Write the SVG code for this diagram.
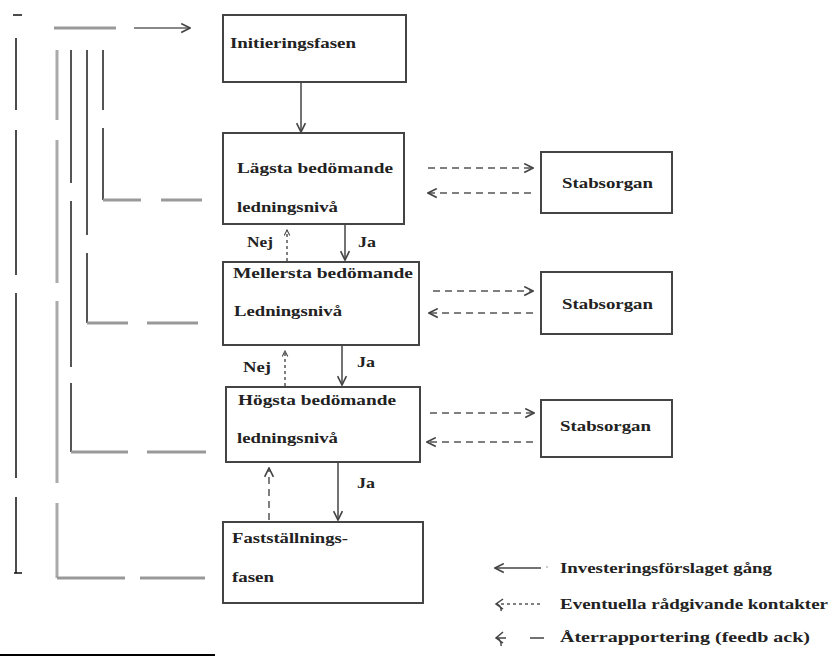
<svg xmlns="http://www.w3.org/2000/svg" width="834" height="657" viewBox="0 0 834 657">
<defs>
<marker id="ah" viewBox="0 0 10 10" refX="9" refY="5" markerWidth="11" markerHeight="11" markerUnits="userSpaceOnUse" orient="auto">
<path d="M1,1 L9,5 L1,9" fill="none" stroke="#444" stroke-width="1.5"/>
</marker>
<marker id="ahs" viewBox="0 0 10 10" refX="9" refY="5" markerWidth="7" markerHeight="7" markerUnits="userSpaceOnUse" orient="auto">
<path d="M1,1 L9,5 L1,9" fill="none" stroke="#444" stroke-width="1.5"/>
</marker>
</defs>
<style>
.box{fill:#fff;stroke:#444;stroke-width:2}
.t{font-family:"Liberation Serif","Times New Roman",serif;font-weight:bold;font-size:15px;fill:#222}
.solid{stroke:#444;stroke-width:1.5;fill:none}
.dash{stroke:#555;stroke-width:1.5;fill:none;stroke-dasharray:7,5}
.dot{stroke:#555;stroke-width:1.5;fill:none;stroke-dasharray:3,3}
.blk{stroke:#111;stroke-width:1.5;fill:none}
.g1{stroke:#aaa;stroke-width:3;fill:none}
.g2{stroke:#555;stroke-width:2;fill:none}
.gh{stroke:#999;stroke-width:3;fill:none}
</style>
<rect width="834" height="657" fill="#fff"/>

<g id="feedback-lines">
<path class="blk" d="M13,15 H22 M16,38 V110 M16,130 V275 M16,293 V478 M16,497 V573 M14,573 H22"/>
<path class="g1" d="M57,50 V120 M57,140 V283 M57,301 V483 M57,503 V578"/>
<path class="gh" d="M57,578 H125 M140,578 H205"/>
<path class="gh" d="M54,28 H116"/>
<path d="M134,28 H190" stroke="#888" stroke-width="2" fill="none" marker-end="url(#ah)"/>
<path class="g2" d="M71,50 V183 M71,201 V367 M71,383 V452"/>
<path class="gh" d="M71,452 H128 M147,452 H206"/>
<path class="g2" d="M87,50 V235 M87,253 V323"/>
<path class="gh" d="M87,323 H128 M147,323 H198"/>
<path class="g2" d="M103,50 V110 M103,128 V200"/>
<path class="gh" d="M103,200 H141 M161,200 H202"/>
</g>

<g id="connectors">
<path class="solid" d="M301,82 V132" marker-end="url(#ah)"/>
<path class="solid" d="M345,224 V260" marker-end="url(#ah)"/>
<path class="dot" d="M287,261 V230" marker-end="url(#ahs)"/>
<path class="solid" d="M342,346 V385" marker-end="url(#ah)"/>
<path class="dot" d="M285,386 V351" marker-end="url(#ahs)"/>
<path class="solid" d="M338,463 V520" marker-end="url(#ah)"/>
<path class="dash" d="M269,520 V468" marker-end="url(#ah)"/>
<path class="dash" d="M428,168 H533" marker-end="url(#ah)"/>
<path class="dash" d="M531,193 H428" marker-end="url(#ah)"/>
<path class="dash" d="M433,291 H533" marker-end="url(#ah)"/>
<path class="dash" d="M533,313 H429" stroke-dasharray="12,6" marker-end="url(#ah)"/>
<path class="dash" d="M430,413 H534" stroke-dasharray="12,6" marker-end="url(#ah)"/>
<path class="dash" d="M533,442 H427" stroke-dasharray="12,6" marker-end="url(#ah)"/>
</g>

<g id="initieringsfasen">
<rect class="box" x="223" y="15" width="183" height="67"/>
<text class="t" x="230" y="48" textLength="126" lengthAdjust="spacingAndGlyphs">Initieringsfasen</text>
</g>
<g id="lagsta">
<rect class="box" x="223" y="133" width="181" height="91"/>
<text class="t" x="237" y="173" textLength="156" lengthAdjust="spacingAndGlyphs">Lägsta bedömande</text>
<text class="t" x="237" y="212" textLength="101" lengthAdjust="spacingAndGlyphs">ledningsnivå</text>
</g>
<g id="mellersta">
<rect class="box" x="223" y="262" width="196" height="83"/>
<text class="t" x="233" y="278" textLength="180" lengthAdjust="spacingAndGlyphs">Mellersta bedömande</text>
<text class="t" x="234" y="316" textLength="108" lengthAdjust="spacingAndGlyphs">Ledningsnivå</text>
</g>
<g id="hogsta">
<rect class="box" x="226" y="387" width="194" height="75"/>
<text class="t" x="238" y="405" textLength="158" lengthAdjust="spacingAndGlyphs">Högsta bedömande</text>
<text class="t" x="237" y="443" textLength="101" lengthAdjust="spacingAndGlyphs">ledningsnivå</text>
</g>
<g id="faststallning">
<rect class="box" x="223" y="522" width="200" height="81"/>
<text class="t" x="232" y="543" textLength="116" lengthAdjust="spacingAndGlyphs">Fastställnings-</text>
<text class="t" x="232" y="582" textLength="42" lengthAdjust="spacingAndGlyphs">fasen</text>
</g>
<g id="stab1">
<rect class="box" x="541" y="152" width="131" height="61"/>
<text class="t" x="562" y="188" textLength="91" lengthAdjust="spacingAndGlyphs">Stabsorgan</text>
</g>
<g id="stab2">
<rect class="box" x="541" y="272" width="131" height="62"/>
<text class="t" x="562" y="309" textLength="91" lengthAdjust="spacingAndGlyphs">Stabsorgan</text>
</g>
<g id="stab3">
<rect class="box" x="541" y="400" width="131" height="57"/>
<text class="t" x="560" y="431" textLength="91" lengthAdjust="spacingAndGlyphs">Stabsorgan</text>
</g>

<g id="labels">
<text class="t" x="247" y="247" textLength="26" lengthAdjust="spacingAndGlyphs">Nej</text>
<text class="t" x="358" y="247" textLength="18" lengthAdjust="spacingAndGlyphs">Ja</text>
<text class="t" x="243" y="372" textLength="28" lengthAdjust="spacingAndGlyphs">Nej</text>
<text class="t" x="357" y="367" textLength="18" lengthAdjust="spacingAndGlyphs">Ja</text>
<text class="t" x="357" y="488" textLength="18" lengthAdjust="spacingAndGlyphs">Ja</text>
</g>

<g id="legend">
<path class="solid" d="M541,568 H495" marker-end="url(#ah)"/>
<circle cx="547" cy="567" r="0.8" fill="#888"/>
<text class="t" x="560" y="573" textLength="212" lengthAdjust="spacingAndGlyphs">Investeringsförslaget gång</text>
<path class="dot" d="M540,604 H497"/>
<path class="solid" d="M503,599 L496,604 L503,609 M497,604 Q502,607 501,611"/>
<text class="t" x="560" y="609" textLength="268" lengthAdjust="spacingAndGlyphs">Eventuella rådgivande kontakter</text>
<path class="solid" d="M530,638 H544 M497,638 H506"/>
<path class="solid" d="M503,632 L496,638 L503,643 M497,638 Q502,641 501,646"/>
<text class="t" x="560" y="642" textLength="250" lengthAdjust="spacingAndGlyphs">Återrapportering (feedb ack)</text>
</g>

<path id="footnote-rule" d="M0,655 H215" stroke="#000" stroke-width="2"/>
</svg>
